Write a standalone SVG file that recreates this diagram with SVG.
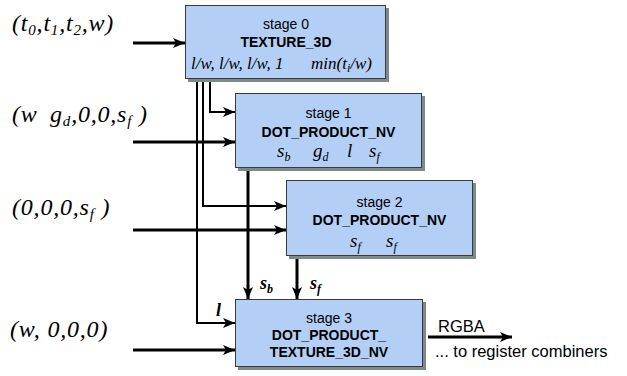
<svg xmlns="http://www.w3.org/2000/svg" width="627" height="376" viewBox="0 0 627 376">
<style>
.box{fill:#b4cff5;stroke:#3a3a3a;stroke-width:1}
.sh{fill:#7d8a8a}
.t{font-family:"Liberation Sans",Arial,sans-serif;font-size:14px;fill:#000;text-anchor:middle}
.b{font-weight:bold}
.m{font-family:"Liberation Serif","Times New Roman",serif;font-style:italic;font-size:19px;fill:#000}
.L{font-family:"Liberation Serif","Times New Roman",serif;font-style:italic;font-size:24px;fill:#000;letter-spacing:0.8px}
.mb{font-family:"Liberation Serif","Times New Roman",serif;font-style:italic;font-weight:bold;font-size:18px;fill:#000}
.sub{font-size:12px}
.lsub{font-size:15px}
.thick{fill:none;stroke:#000;stroke-width:3}
.thin{fill:none;stroke:#000;stroke-width:2}
.plain{font-family:"Liberation Sans",Arial,sans-serif;font-size:16.5px;fill:#000}
</style>
<defs>
<marker id="ah" markerUnits="userSpaceOnUse" markerWidth="14" markerHeight="12" refX="12" refY="5" orient="auto">
<path d="M0,0 L12,5 L0,10 L3,5 z" fill="#000"/>
</marker>
</defs>

<g id="labels">
<text class="L" x="12" y="31">(t<tspan class="lsub" dy="4">0</tspan><tspan dy="-4">,t</tspan><tspan class="lsub" dy="4">1</tspan><tspan dy="-4">,t</tspan><tspan class="lsub" dy="4">2</tspan><tspan dy="-4">,w)</tspan></text>
<text class="L" x="12" y="122">(w<tspan x="50">g</tspan><tspan class="lsub" dy="4">d</tspan><tspan dy="-4">,0,0,s</tspan><tspan class="lsub" dy="4">f</tspan><tspan dy="-4"> )</tspan></text>
<text class="L" x="12" y="215">(0,0,0,s<tspan class="lsub" dy="4">f</tspan><tspan dy="-4"> )</tspan></text>
<text class="L" x="10" y="337">(w, 0,0,0)</text>
</g>

<g id="connectors">
<path class="thick" d="M133,43 H185" marker-end="url(#ah)"/>
<path class="thick" d="M133,142 H235" marker-end="url(#ah)"/>
<path class="thick" d="M133,230 H286" marker-end="url(#ah)"/>
<path class="thick" d="M133,350 H235" marker-end="url(#ah)"/>
<path class="thin" d="M210,79 V112 H235" marker-end="url(#ah)"/>
<path class="thin" d="M203,79 V206 H286" marker-end="url(#ah)"/>
<path class="thin" d="M197,79 V323 H235" marker-end="url(#ah)"/>
<path class="thick" d="M248,168 V299" marker-end="url(#ah)"/>
<path class="thick" d="M297,256 V299" marker-end="url(#ah)"/>
<path class="thick" d="M428,337 H512" marker-end="url(#ah)"/>
<text class="mb" x="260" y="289">s<tspan class="sub" dy="4">b</tspan></text>
<text class="mb" x="310" y="289">s<tspan class="sub" dy="4">f</tspan></text>
<text class="mb" x="216" y="316">l</text>
<text class="plain" x="438" y="332">RGBA</text>
<text class="plain" x="435" y="357">... to register combiners</text>
</g>

<g id="stage0">
<rect class="sh" x="188" y="8" width="201" height="74"/>
<rect class="box" x="185.5" y="5.5" width="200" height="73"/>
<text class="t" x="286" y="29">stage 0</text>
<text class="t b" x="286" y="47">TEXTURE_3D</text>
<text class="m" x="191" y="69" style="font-size:17px">l/w, l/w, l/w, 1</text>
<text class="m" x="311" y="69" style="font-size:17px">min(t<tspan class="sub" dy="3">i</tspan><tspan dy="-3">/w)</tspan></text>
</g>

<g id="stage1">
<rect class="sh" x="238" y="96" width="187" height="75"/>
<rect class="box" x="235.5" y="93.5" width="186" height="74"/>
<text class="t" x="328.5" y="118">stage 1</text>
<text class="t b" x="328.5" y="137">DOT_PRODUCT_NV</text>
<text class="m" x="277" y="157">s<tspan class="sub" dy="4">b</tspan></text>
<text class="m" x="313" y="157">g<tspan class="sub" dy="4">d</tspan></text>
<text class="m" x="347" y="157">l</text>
<text class="m" x="369" y="157">s<tspan class="sub" dy="4">f</tspan></text>
</g>

<g id="stage2">
<rect class="sh" x="289" y="183" width="187" height="76"/>
<rect class="box" x="286.5" y="180.5" width="186" height="75"/>
<text class="t" x="379.5" y="207">stage 2</text>
<text class="t b" x="379.5" y="225">DOT_PRODUCT_NV</text>
<text class="m" x="350" y="247">s<tspan class="sub" dy="4">f</tspan></text>
<text class="m" x="386" y="247">s<tspan class="sub" dy="4">f</tspan></text>
</g>

<g id="stage3">
<rect class="sh" x="238" y="302" width="188" height="68"/>
<rect class="box" x="235.5" y="299.5" width="187" height="67"/>
<text class="t" x="329" y="323">stage 3</text>
<text class="t b" x="329" y="340">DOT_PRODUCT_</text>
<text class="t b" x="329" y="357">TEXTURE_3D_NV</text>
</g>
</svg>
